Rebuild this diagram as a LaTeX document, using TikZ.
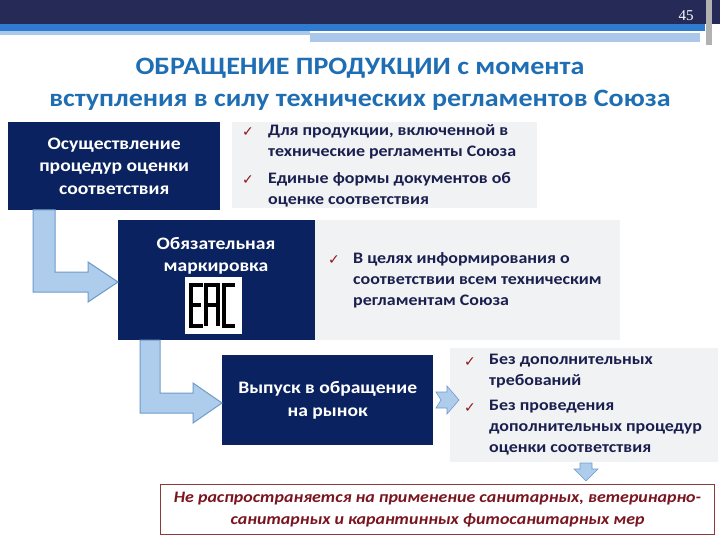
\documentclass[tikz,border=0pt]{standalone}
\usepackage{fontspec}
\setmainfont{Carlito}[FakeStretch=1.12]
\newfontfamily\djv{DejaVu Sans}
\newfontfamily\serifnum{Liberation Serif}
\definecolor{topbar}{HTML}{252A56}
\definecolor{stripe}{HTML}{2E7BCF}
\definecolor{stripel}{HTML}{A9C8EA}
\definecolor{titleblue}{HTML}{1F6EB4}
\definecolor{navy}{HTML}{0B2260}
\definecolor{listbg}{HTML}{F1F2F4}
\definecolor{listtxt}{HTML}{1A1F4E}
\definecolor{chk}{HTML}{8B1A1A}
\definecolor{arrfill}{HTML}{AECDEC}
\definecolor{arrline}{HTML}{6F9BC8}
\definecolor{redtxt}{HTML}{7A1520}
\definecolor{redline}{HTML}{8B3A3A}
\newcommand{\ck}{{\djv\color{chk}\fontsize{14}{14}\selectfont ✓}}
\begin{document}
\begin{tikzpicture}[x=1pt,y=-1pt,
  navybox/.style={fill=navy,inner sep=0pt},
  boxtext/.style={text=white,font=\bfseries\fontsize{17.5}{22.5}\selectfont,align=center},
  listbox/.style={fill=listbg,inner sep=0pt},
  listtext/.style={text=listtxt,font=\bfseries\fontsize{16}{21}\selectfont,align=left,anchor=north west,inner sep=0pt},
  bigarrow/.style={fill=arrfill,draw=arrline,line width=1pt}]
\useasboundingbox (0,0) rectangle (720,540);
\fill[white] (0,0) rectangle (720,540);
% header
\fill[topbar] (0,0) rectangle (720,24);
\fill[stripe] (0,24) rectangle (705,31);
\fill[stripel] (0,31) rectangle (310,35);
\fill[stripel] (310,33) rectangle (700,42);
\fill[white] (0,35) rectangle (310,40);
\fill[gray!60] (706,0) rectangle (712,45);
\node[text=white,font=\serifnum\fontsize{15}{15}\selectfont] (pg) at (686,16) {45};
% title
\node[text=titleblue,font=\bfseries\fontsize{25}{32}\selectfont,align=center] (title) at (360,84)
  {ОБРАЩЕНИЕ ПРОДУКЦИИ с момента\\вступления в силу технических регламентов Союза};
% list backgrounds
\node[listbox,minimum width=305pt,minimum height=86pt,anchor=north west] (l1) at (232,122) {};
\node[listbox,minimum width=305pt,minimum height=120pt,anchor=north west] (l2) at (315,220) {};
\node[listbox,minimum width=268pt,minimum height=114pt,anchor=north west] (l3) at (450,348) {};
% boxes
\node[navybox,minimum width=212pt,minimum height=88pt,anchor=north west] (b1) at (8,122) {};
\node[boxtext] (b1t) at (b1.center) {Осуществление\\процедур оценки\\соответствия};
\node[navybox,minimum width=197pt,minimum height=120pt,anchor=north west] (b2) at (118,220) {};
\node[boxtext] (b2t) at (216,256) {Обязательная\\маркировка};
\node[navybox,minimum width=211pt,minimum height=90pt,anchor=north west] (b3) at (222,355) {};
\node[boxtext] (b3t) at (b3.center) {Выпуск в обращение\\на рынок};
% EAC logo
\node[fill=white,minimum width=57pt,minimum height=57pt,anchor=north west,inner sep=0pt] (eac) at (185,277) {};
\begin{scope}[black,line width=4.5pt]
\draw (203,285) -- (191,285) -- (191,326) -- (203,326);
\draw (191,305) -- (201,305);
\draw (206,326) -- (206,285) -- (218,285) -- (218,326);
\draw (206,305) -- (218,305);
\draw (235,285) -- (224,285) -- (224,326) -- (235,326);
\end{scope}
% list texts
\node[anchor=north west,inner sep=0pt] (c1) at (242,127) {\ck};
\node[listtext] (t1) at (268,124) {Для продукции, включенной в\\технические регламенты Союза};
\node[anchor=north west,inner sep=0pt] (c2) at (242,175) {\ck};
\node[listtext] (t2) at (268,172) {Единые формы документов об\\оценке соответствия};
\node[anchor=north west,inner sep=0pt] (c3) at (328,255) {\ck};
\node[listtext] (t3) at (353,252) {В целях информирования о\\соответствии всем техническим\\регламентам Союза};
\node[anchor=north west,inner sep=0pt] (c4) at (464,357) {\ck};
\node[listtext] (t4) at (489,354) {Без дополнительных\\требований};
\node[anchor=north west,inner sep=0pt] (c5) at (464,403) {\ck};
\node[listtext] (t5) at (489,400) {Без проведения\\дополнительных процедур\\оценки соответствия};
% bottom box
\node[draw=redline,line width=1pt,fill=white,minimum width=554pt,minimum height=50pt,anchor=north west] (nb) at (160,484) {};
\node[text=redtxt,font=\bfseries\itshape\fontsize{16}{22}\selectfont,align=center] (nbt) at (nb.center)
  {Не распространяется на применение санитарных, ветеринарно-\\санитарных и карантинных фитосанитарных мер};
% arrows
\draw[bigarrow] (33,210) -- (55,210) -- (55,272) -- (88,272) -- (88,262) -- (b2.west |- 0,282) -- (88,302) -- (88,292) -- (33,292) -- cycle;
\draw[bigarrow] (140,340) -- (160,340) -- (160,393) -- (193,393) -- (193,383) -- (b3.west |- 0,403) -- (193,423) -- (193,413) -- (140,413) -- cycle;
\draw[bigarrow,line width=0.6pt] (436,392) -- (447,392) -- (447,386) -- (459,400) -- (447,414) -- (447,408) -- (436,408) -- (441,400) -- cycle;
\draw[bigarrow,line width=0.6pt] (580,463) -- (592,463) -- (592,469) -- (598,469) -- (586,481) -- (574,469) -- (580,469) -- cycle;
\end{tikzpicture}
\end{document}
